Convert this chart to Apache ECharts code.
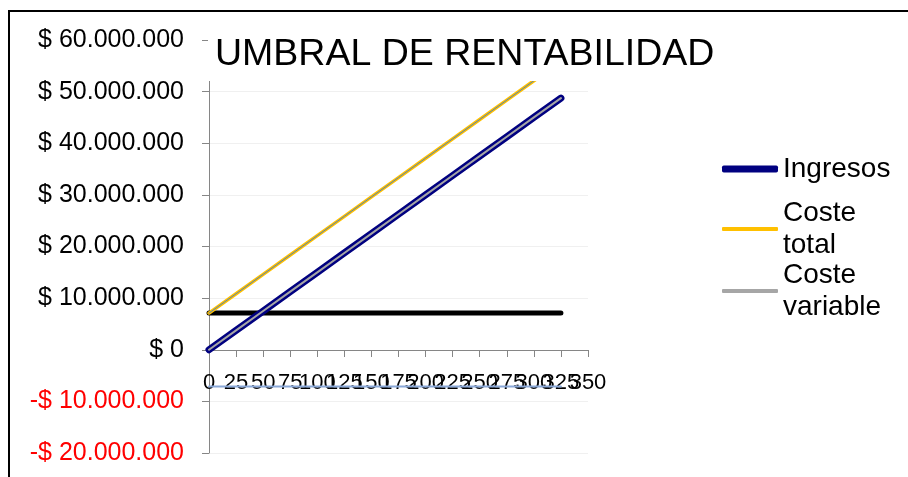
<!DOCTYPE html>
<html>
<head>
<meta charset="utf-8">
<script src="https://cdn.jsdelivr.net/npm/echarts@6/dist/echarts.min.js"></script>
<style>
html, body { margin: 0; padding: 0; background: #fff; }
#chart { width: 908px; height: 477px; }
</style>
</head>
<body>
<div id="chart"></div>
<script>
// unidades (eje x)
var unidades = [0, 25, 50, 75, 100, 125, 150, 175, 200, 225, 250, 275, 300, 325];
var ingresos = [0, 3750000, 7500000, 11250000, 15000000, 18750000, 22500000, 26250000,
	30000000, 33750000, 37500000, 41250000, 45000000, 48750000];
var costeTotal = [7100000, 10850000, 14600000, 18350000, 22100000, 25850000, 29600000, 33350000,
	37100000, 40850000, 44600000, 48350000, 52100000, 55850000];
var costeVariable = [0, 3750000, 7500000, 11250000, 15000000, 18750000, 22500000, 26250000,
	30000000, 33750000, 37500000, 41250000, 45000000, 48750000];
var costesFijos = [7100000, 7100000, 7100000, 7100000, 7100000, 7100000, 7100000,
	7100000, 7100000, 7100000, 7100000, 7100000, 7100000, 7100000];
var beneficio = [-7100000, -7100000, -7100000, -7100000, -7100000, -7100000, -7100000,
	-7100000, -7100000, -7100000, -7100000, -7100000, -7100000, -7100000];

var FONT = "'Liberation Sans', Arial, sans-serif";
var myChart;

function pares(vals)
{
	var out = [];
	for (var i = 0; i < unidades.length; i++) {
		out.push([unidades[i], vals[i]]);
	}
	return out;
}

function moneda(v)
{
	if (v === 0) return '$ 0';
	var s = Math.abs(v).toString().replace(/\B(?=(\d{3})+(?!\d))/g, '.');
	return (v < 0 ? '-' : '') + '$ ' + s;
}

function serie(nombre, vals, color, ancho, z)
{
	return {
		name: nombre,
		type: 'line',
		data: pares(vals),
		symbol: 'none',
		z: z,
		silent: true,
		color: color,
		lineStyle: { color: color, width: ancho, cap: 'round', join: 'round' }
	};
}

function leyenda(nombre, top, alto, dosLineas)
{
	return {
		data: [{ name: nombre, icon: 'roundRect' }],
		left: 722,
		top: top,
		padding: 0,
		itemWidth: 56,
		itemHeight: alto,
		itemGap: 0,
		selectedMode: false,
		formatter: function (n) { return n.replace(' ', '\n'); },
		textStyle: {
			fontFamily: FONT,
			fontSize: 28,
			color: '#000',
			lineHeight: 32,
			padding: dosLineas ? [32, 0, 0, 0] : 0
		}
	};
}

function ejeX(intervalo, conLinea, minimo, maximo)
{
	return {
		type: 'value',
		min: 0,
		max: 350,
		interval: intervalo,
		position: 'bottom',
		// el eje x se dibuja sobre el cero del eje y
		offset: -103,
		axisLine: { show: conLinea, onZero: false, lineStyle: { color: '#868686', width: 1 } },
		axisTick: { show: true, length: 7, lineStyle: { color: '#868686' } },
		splitLine: { show: false },
		axisLabel: {
			margin: 22, color: '#000', fontFamily: FONT, fontSize: 22,
			showMinLabel: minimo, showMaxLabel: maximo, hideOverlap: false
		}
	};
}

function initOptions()
{
	var option = {
		animation: false,
		backgroundColor: '#fff',
		title: {
			text: 'UMBRAL DE RENTABILIDAD',
			left: 208,
			top: 31,
			padding: [5, 10, 7, 7],
			backgroundColor: '#fff',
			textStyle: { fontFamily: FONT, fontSize: 37.5, fontWeight: 'normal', color: '#000' }
		},
		legend: [
			leyenda('Ingresos', 153, 7, false),
			leyenda('Coste total', 181, 4, true),
			leyenda('Coste variable', 243, 4, true)
		],
		grid: { left: 209, right: 320, top: 40, bottom: 24, containLabel: false, outerBoundsMode: 'none' },
		// segundo eje solo para la etiqueta 350 (así no se oculta la de 325)
		xAxis: [ejeX(25, true, true, false), ejeX(350, false, false, true)],
		yAxis: {
			type: 'value',
			min: -20000000,
			max: 60000000,
			interval: 10000000,
			axisLine: { show: true, lineStyle: { color: '#868686', width: 1 } },
			axisTick: { show: true, length: 7, lineStyle: { color: '#868686' } },
			splitLine: { show: true, lineStyle: { color: '#f0f0f0', width: 1 } },
			axisLabel: {
				margin: 25,
				fontFamily: FONT,
				fontSize: 25,
				formatter: moneda,
				color: function (v) { return Number(v) < 0 ? '#ff0000' : '#000'; }
			}
		},
		graphic: [{
			type: 'rect',
			z: 100,
			silent: true,
			shape: { x: 9, y: 11, width: 2000, height: 2000 },
			style: { fill: 'none', stroke: '#000', lineWidth: 2 }
		}],
		series: [
			serie('Costes fijos', costesFijos, '#000000', 5, 3),
			serie('Beneficio', beneficio, '#8aa8d8', 2, 3),
			serie('Coste total', costeTotal, '#ffc000', 3.5, 4),
			serie('Coste total base', costeTotal, '#4f81bd', 1, 5),
			serie('Ingresos', ingresos, '#000080', 7, 4),
			serie('Coste variable', costeVariable, '#a6a6a6', 2, 5)
		]
	};
	myChart.setOption(option, true);
}

myChart = echarts.init(document.getElementById('chart'), null, { renderer: 'canvas' });
initOptions();
</script>
</body>
</html>
